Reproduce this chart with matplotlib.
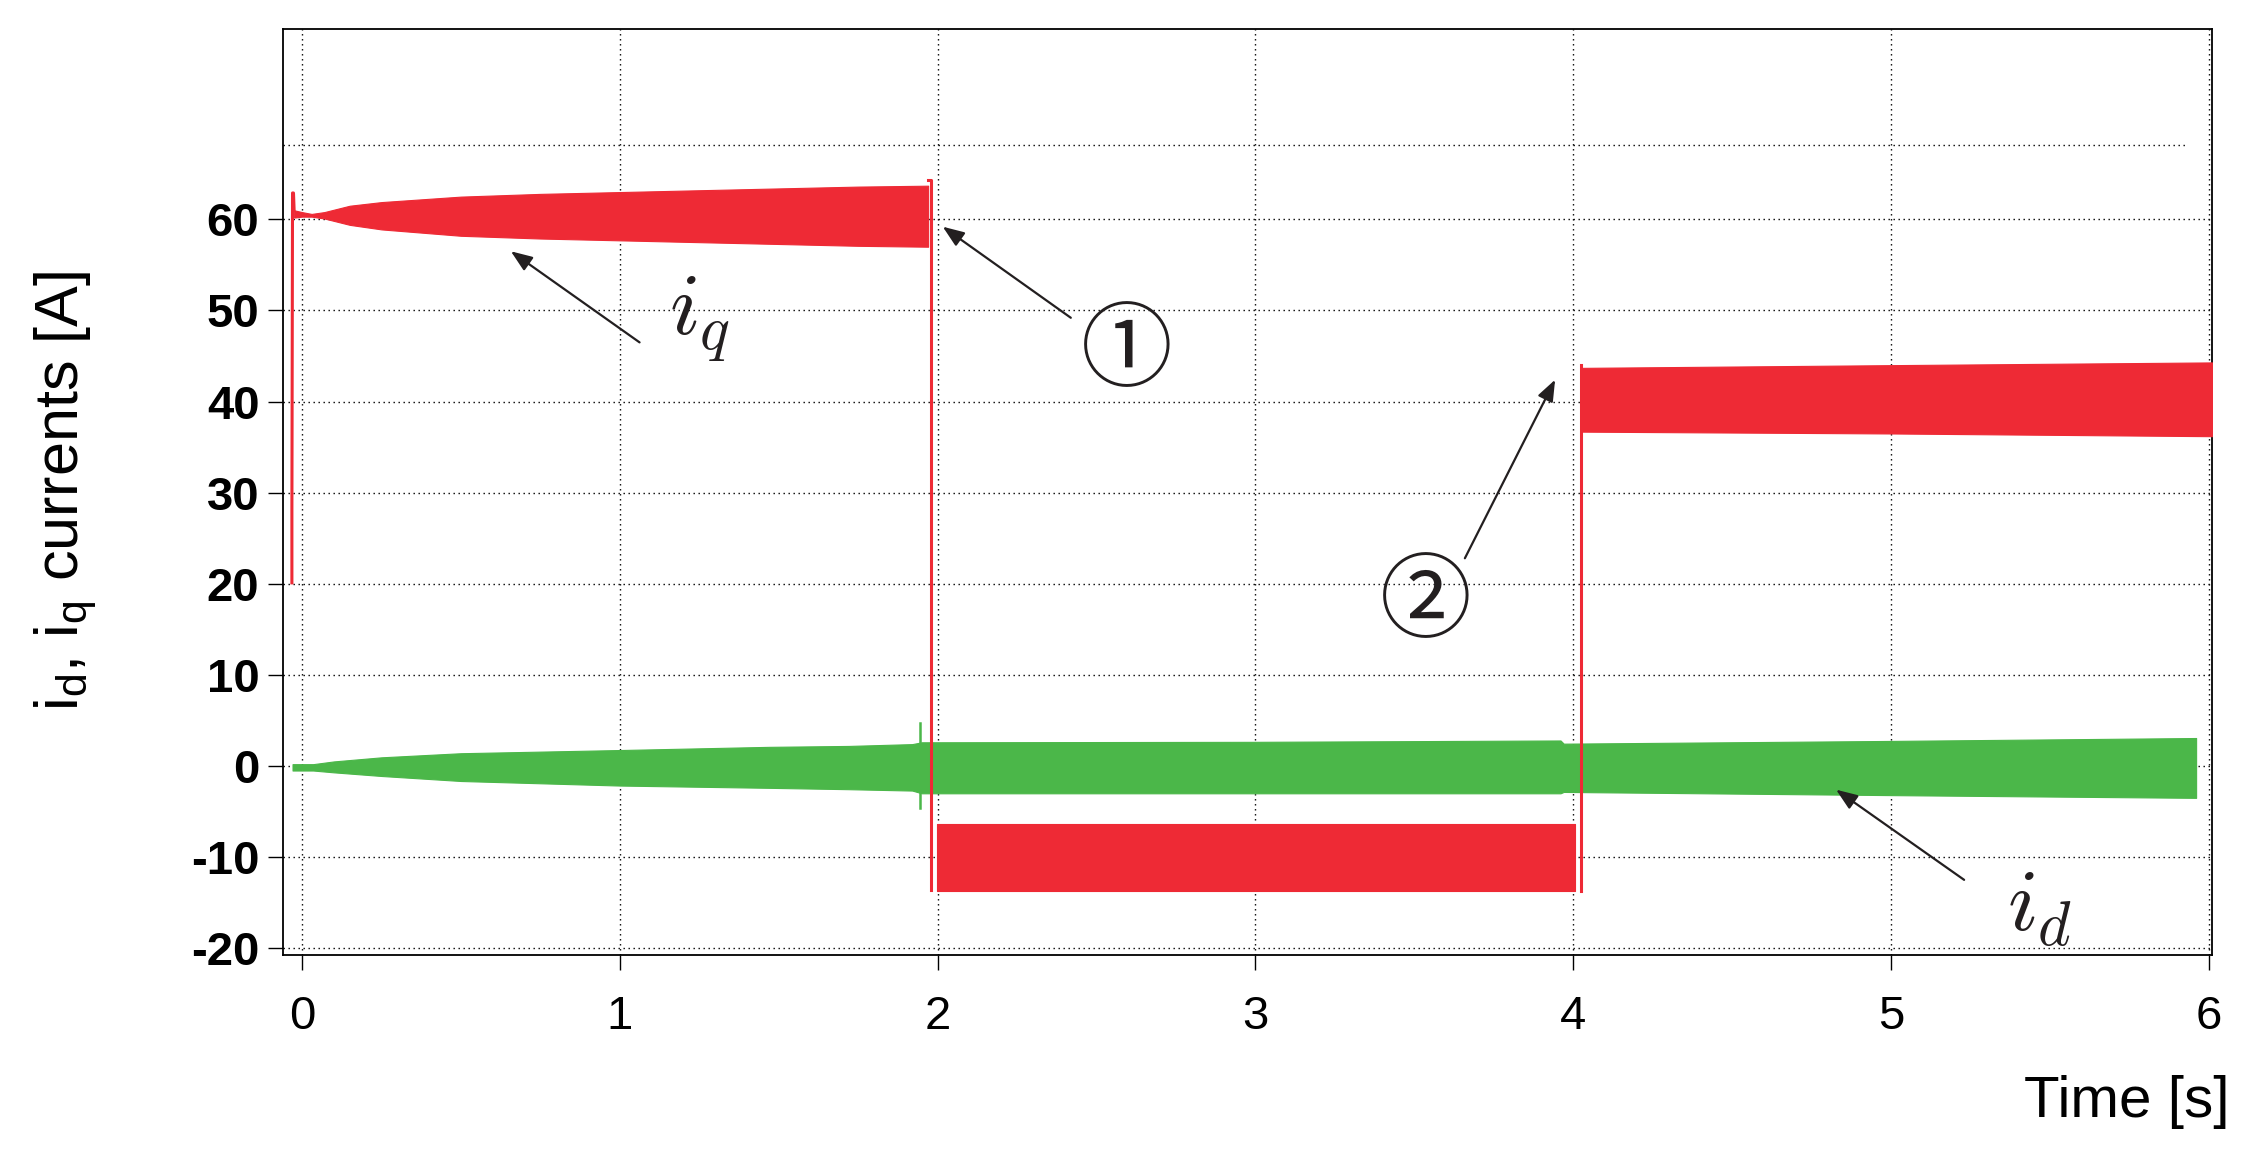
import matplotlib
matplotlib.use("Agg")
import matplotlib.pyplot as plt

plt.rcParams['mathtext.fontset'] = 'cm'
plt.rcParams['font.family'] = ['Liberation Sans', 'DejaVu Sans']

RED = '#EE2A35'
GREEN = '#4BB749'

# ---- data ----
# i_q : oscillation envelope, segment 1 (before first step)
t_iq1 = [-0.025, 0.0, 0.03, 0.07, 0.15, 0.25, 0.5, 0.75, 1.0, 1.25, 1.5, 1.75, 1.97]
iq1_hi = [61.0, 60.8, 60.6, 60.8, 61.5, 61.9, 62.5, 62.8, 63.0, 63.2, 63.4, 63.6, 63.7]
iq1_lo = [60.2, 60.3, 60.3, 60.1, 59.4, 58.9, 58.2, 57.9, 57.7, 57.5, 57.3, 57.1, 57.0]
# start-up transient
t_iq0 = [-0.032, -0.032, -0.030, -0.027, -0.025]
iq0 = [20.1, 28.3, 62.9, 62.9, 61.0]
# step 1 (drop) and segment 2
t_drop = [1.97, 1.978, 1.978]
iq_drop = [64.3, 64.3, -13.6]
t_iq2 = [1.997, 4.004]
iq2_hi = [-6.4, -6.4]
iq2_lo = [-13.7, -13.7]
# step 2 (rise) and segment 3
t_rise = [4.025, 4.025]
iq_rise = [-13.7, 44.0]
t_iq3 = [4.025, 5.0, 6.01]
iq3_hi = [43.7, 44.0, 44.3]
iq3_lo = [36.7, 36.5, 36.2]

# i_d : oscillation envelope
t_id = [-0.03, 0.035, 0.1, 0.25, 0.5, 1.0, 1.47, 1.72, 1.92, 1.95, 3.0, 3.96, 3.97, 5.0, 5.96]
id_hi = [0.2, 0.2, 0.5, 0.95, 1.4, 1.75, 2.1, 2.2, 2.4, 2.6, 2.65, 2.8, 2.45, 2.75, 3.07]
id_lo = [-0.5, -0.5, -0.7, -1.1, -1.65, -2.15, -2.4, -2.55, -2.7, -3.0, -3.0, -3.0, -2.85, -3.2, -3.5]
t_id_spike = [1.945, 1.945]
id_spike = [-4.6, 4.75]

x_ticks = [0, 1, 2, 3, 4, 5, 6]
y_ticks = [-20, -10, 0, 10, 20, 30, 40, 50, 60]

# ---- figure ----
fig = plt.figure(figsize=(22.52, 11.60), dpi=100)
ax = fig.add_axes([283/2252, 1-955/1160, (2212-283)/2252, (955-29)/1160])

ax.fill_between(t_iq1, iq1_lo, iq1_hi, color=RED, lw=0.8, zorder=3)
ax.plot(t_iq0, iq0, color=RED, lw=2.2, zorder=3)
ax.plot(t_drop, iq_drop, color=RED, lw=2.2, zorder=3)
ax.fill_between(t_iq2, iq2_lo, iq2_hi, color=RED, lw=0.8, zorder=3)
ax.plot(t_rise, iq_rise, color=RED, lw=2.2, zorder=3)
ax.fill_between(t_iq3, iq3_lo, iq3_hi, color=RED, lw=0.8, zorder=3)

ax.fill_between(t_id, id_lo, id_hi, color=GREEN, lw=0.8, zorder=2)
ax.plot(t_id_spike, id_spike, color=GREEN, lw=1.8, zorder=2)

ax.set_xlim(-0.06, 6.01)
ax.set_ylim(-20.75, 80.9)
ax.set_xticks(x_ticks)
ax.set_yticks(y_ticks)
ax.set_xticklabels([str(v) for v in x_ticks], fontsize=34)
ax.set_yticklabels([str(v) for v in y_ticks], fontsize=34, fontweight='bold')
ax.tick_params(axis='x', direction='out', length=11, width=1.0, pad=18, top=False)
ax.tick_params(axis='y', direction='out', length=11, width=1.0, pad=6, right=False)

ax.grid(True, color='black', linestyle=(0, (1, 2.6)), linewidth=1.0, zorder=1)
ax.axhline(68.2, xmin=0, xmax=(5.93+0.06)/6.07, color='black',
           linestyle=(0, (1, 2.6)), linewidth=1.0, zorder=1)
ax.set_axisbelow(True)
for s in ax.spines.values():
    s.set_linewidth(1.3)
    s.set_color('black')

# labels
fig.text(2230/2252, 1-1117/1160, 'Time [s]', fontsize=42, ha='right', va='baseline')
fig.text(66/2252, 1-491/1160, r'$\mathregular{i_d}$, $\mathregular{i_q}$ currents [A]',
         fontsize=44, rotation=90, ha='center', va='center')

# annotations
arrow = dict(arrowstyle='-|>,head_length=1.3,head_width=0.5', color='#231F20', lw=1.6,
             shrinkA=0, shrinkB=0)
ax.annotate('', xy=(0.657, 56.5), xytext=(1.062, 46.5), arrowprops=arrow)
ax.text(1.252, 49.0, r'$i_q$', fontsize=64, ha='center', va='center', color='#231F20')

circ_font = ['Noto Sans CJK JP', 'DejaVu Sans']
ax.annotate('', xy=(2.016, 59.2), xytext=(2.419, 49.2), arrowprops=arrow)
ax.text(2.595, 45.3, '\u2460', fontsize=66, ha='center', va='center', color='#231F20',
        family=circ_font)

ax.annotate('', xy=(3.943, 42.4), xytext=(3.659, 22.8), arrowprops=arrow)
ax.text(3.536, 17.8, '\u2461', fontsize=66, ha='center', va='center', color='#231F20',
        family=circ_font)

ax.annotate('', xy=(4.827, -2.6), xytext=(5.230, -12.5), arrowprops=arrow)
ax.text(5.468, -15.6, r'$i_d$', fontsize=64, ha='center', va='center', color='#231F20')

fig.savefig('out.png', dpi=100)
